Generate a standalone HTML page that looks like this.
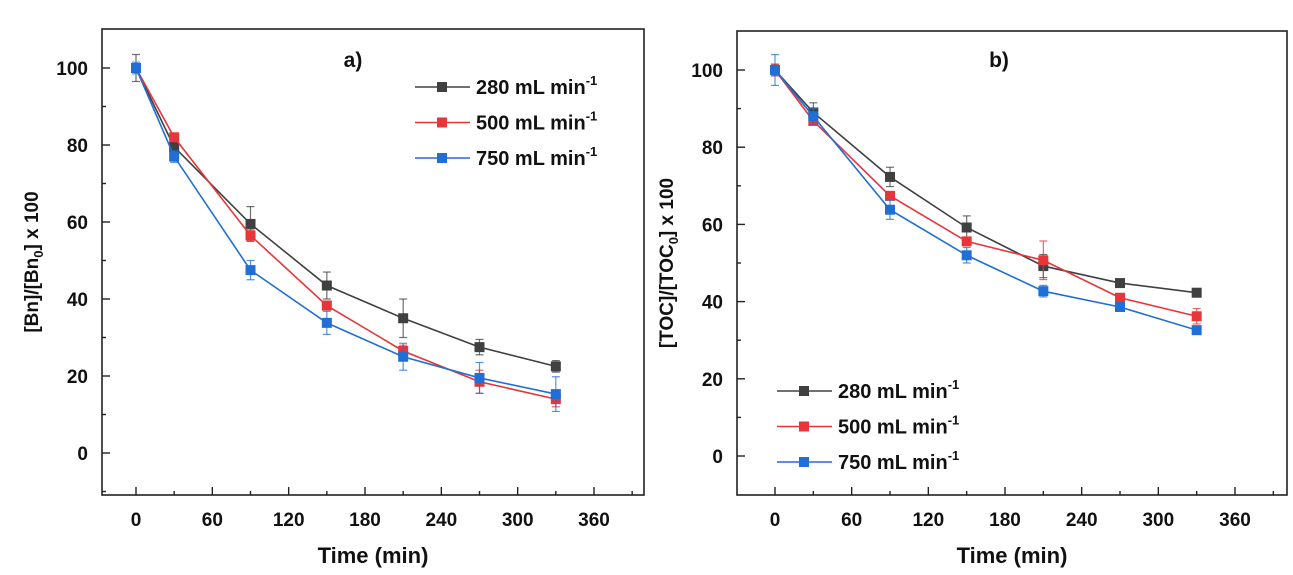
<!DOCTYPE html>
<html><head><meta charset="utf-8"><style>
html,body{margin:0;padding:0;background:#fff;}
svg{display:block;font-family:"Liberation Sans",Arial,sans-serif;}
text{font-weight:bold;fill:#111;}
</style></head><body>
<svg id="chart" width="1293" height="575" viewBox="0 0 1293 575" xmlns="http://www.w3.org/2000/svg"></svg>
<script>
const times = [0, 30, 90, 150, 210, 270, 330];
const seriesNames = ["280 mL min", "500 mL min", "750 mL min"];
const seriesColors = ["#404040", "#e8353a", "#1f6fd6"];
const xTicks = [0, 60, 120, 180, 240, 300, 360];
const yTicks = [0, 20, 40, 60, 80, 100];
// panel a
const bnBlack = [100, 79.5, 59.5, 43.5, 35, 27.5, 22.5];
const bnBlackErr = [3.5, 2, 4.5, 3.5, 5, 2, 1.5];
const bnRed = [100, 82, 56.5, 38.3, 26.5, 18.5, 14];
const bnRedErr = [1, 1, 1.5, 1, 1.5, 3, 2];
const bnBlue = [100, 77, 47.5, 33.8, 25, 19.5, 15.3];
const bnBlueErr = [1.5, 1.5, 2.5, 3, 3.5, 4, 4.5];
// panel b
const tocBlack = [100, 89, 72.3, 59.2, 49.2, 44.8, 42.3];
const tocBlackErr = [1.5, 2.5, 2.5, 3, 3, 0.5, 0.5];
const tocRed = [100, 86.8, 67.4, 55.6, 50.7, 41, 36.2];
const tocRedErr = [1.5, 1, 1, 1, 5, 1, 2];
const tocBlue = [100, 88, 63.8, 52, 42.7, 38.6, 32.6];
const tocBlueErr = [4, 2, 2.5, 2, 1.5, 1, 0.5];

const NS = "http://www.w3.org/2000/svg";
const svg = document.getElementById("chart");
function el(tag, attrs, parent) {
  const e = document.createElementNS(NS, tag);
  for (const k in attrs) e.setAttribute(k, attrs[k]);
  (parent || svg).appendChild(e);
  return e;
}

function panel(cfg) {
  const g = el("g", {});
  
  
  const xs = v => cfg.px0 + v * (cfg.px360 - cfg.px0) / 360;
  const ys = v => cfg.py0 - v * (cfg.py0 - cfg.py100) / 100;
  const frame = el("rect", {x: cfg.x0, y: cfg.y0, width: cfg.x1 - cfg.x0, height: cfg.y1 - cfg.y0, fill: "none", stroke: "#222", "stroke-width": 1.6}, g);
  
  
  for (let v = -30; v <= 400; v += 30) {
    const x = xs(v);
    if (x <= cfg.x0 + 1 || x >= cfg.x1 - 1) continue;
    const major = v % 60 === 0;
    el("line", {x1: x, x2: x, y1: cfg.y1, y2: cfg.y1 - (major ? 8 : 4), stroke: "#222", "stroke-width": 1.4}, g);
  }
  xTicks.forEach(v => {
    const t = el("text", {x: xs(v), y: cfg.y1 + 31, "text-anchor": "middle", "font-size": 19}, g);
    t.textContent = v;
    
    
  });
  for (let v = -10; v <= 110; v += 10) {
    const y = ys(v);
    if (y <= cfg.y0 + 1 || y >= cfg.y1 - 1) continue;
    const major = v % 20 === 0;
    el("line", {x1: cfg.x0, x2: cfg.x0 + (major ? 8 : 4), y1: y, y2: y, stroke: "#222", "stroke-width": 1.4}, g);
  }
  yTicks.forEach(v => {
    const t = el("text", {x: cfg.x0 - 14, y: ys(v) + 7, "text-anchor": "end", "font-size": 19}, g);
    t.textContent = v;
    
    
  });
  const xt = el("text", {x: (cfg.x0 + cfg.x1) / 2, y: 563, "text-anchor": "middle", "font-size": 22}, g);
  xt.textContent = "Time (min)";
  
  
  const yt = el("text", {transform: `translate(${cfg.x0 - 64},${(cfg.y0 + cfg.y1) / 2}) rotate(-90)`, "text-anchor": "middle", "font-size": 19}, g);
  yt.innerHTML = cfg.ytitle;
  
  
  const lab = el("text", {x: cfg.labX, y: 67, "text-anchor": "middle", "font-size": 21}, g);
  lab.textContent = cfg.label;
  
  
  cfg.series.forEach((s, i) => {
    const sg = el("g", {}, g);
    
    
    const c = seriesColors[i];
    s.vals.forEach((v, j) => {
      const x = xs(times[j]), e = s.err[j];
      el("line", {x1: x, x2: x, y1: ys(v - e), y2: ys(v + e), stroke: c, "stroke-width": 1.2, opacity: 0.75}, sg);
      el("line", {x1: x - 4, x2: x + 4, y1: ys(v - e), y2: ys(v - e), stroke: c, "stroke-width": 1.2, opacity: 0.75}, sg);
      el("line", {x1: x - 4, x2: x + 4, y1: ys(v + e), y2: ys(v + e), stroke: c, "stroke-width": 1.2, opacity: 0.75}, sg);
    });
    const line = el("polyline", {points: s.vals.map((v, j) => xs(times[j]) + "," + ys(v)).join(" "), fill: "none", stroke: c, "stroke-width": 1.6}, sg);
    
    
    s.vals.forEach((v, j) => {
      const m = el("rect", {x: xs(times[j]) - 5, y: ys(v) - 5, width: 10, height: 10, fill: c}, sg);
      
      
    });
    const ly = cfg.legY + i * 35.5;
    const lg = el("g", {}, g);
    
    
    el("line", {x1: cfg.legX, x2: cfg.legX + 55, y1: ly, y2: ly, stroke: c, "stroke-width": 1.6}, lg);
    el("rect", {x: cfg.legX + 22, y: ly - 5, width: 10, height: 10, fill: c}, lg);
    const lt = el("text", {x: cfg.legX + 61, y: ly + 7, "font-size": 20}, lg);
    lt.innerHTML = seriesNames[i] + '<tspan dy="-9" font-size="13">-1</tspan>';
  });
}

panel({name: "panel-a", x0: 102, x1: 644, y0: 29, y1: 495, px0: 136, px360: 594, py0: 453, py100: 68,
  label: "a)", labX: 353, legX: 415, legY: 87,
  ytitle: '[Bn]/[Bn<tspan dy="5" font-size="13">0</tspan><tspan dy="-5">] x 100</tspan>',
  series: [{vals: bnBlack, err: bnBlackErr}, {vals: bnRed, err: bnRedErr}, {vals: bnBlue, err: bnBlueErr}]});
panel({name: "panel-b", x0: 737, x1: 1287, y0: 31, y1: 495, px0: 775, px360: 1235, py0: 456, py100: 70,
  label: "b)", labX: 999, legX: 777, legY: 391,
  ytitle: '[TOC]/[TOC<tspan dy="5" font-size="13">0</tspan><tspan dy="-5">] x 100</tspan>',
  series: [{vals: tocBlack, err: tocBlackErr}, {vals: tocRed, err: tocRedErr}, {vals: tocBlue, err: tocBlueErr}]});
</script>
</body></html>
